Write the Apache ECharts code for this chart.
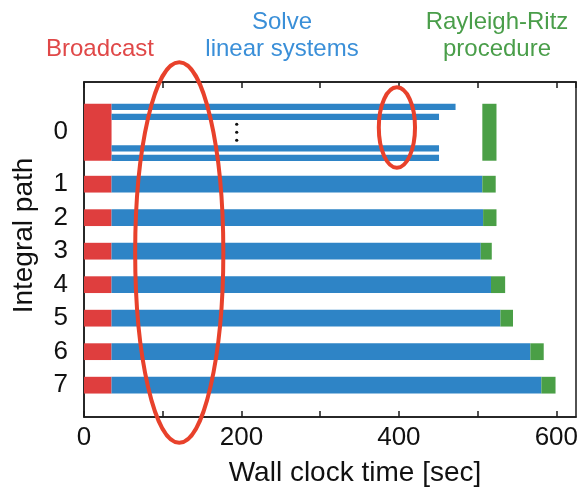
<!DOCTYPE html>
<html><head><meta charset="utf-8">
<script src="https://cdn.jsdelivr.net/npm/echarts@6/dist/echarts.min.js"></script>
<style>html,body{margin:0;padding:0;background:#fff}#c{width:585px;height:492px}</style>
</head><body><div id="c"></div>
<script>
// ---- data (seconds) ----
const paths = ['0','1','2','3','4','5','6','7'];
const broadcastEnd = [35,35,35,35,35,35,35,35];
const solveEnd = [451,506,507,504,517,529,567,581];
const path0SolveEnds = [472,451,451,451];
const rrStart = [506,506,507,504,517,529,567,581];
const rrEnd = [524,523,524,518,535,545,584,599];
const xTicks = [0,200,400,600];

// ---- layout (row positions in axis units) ----
const rowCenter = [-0.55,1,2,3,4,5,6,7];
const barH = 0.5, row0H = 1.7, lineH = 0.19;
const lineOffsets = [-0.756,-0.46,0.48,0.765];

const FONT = '"Liberation Sans", Arial, sans-serif';
const RED = '#df3e3e', BLUE = '#2e84c6', GREEN = '#4a9f46';
const AX = '#1a1a1a';

function makeRender(color){
  return function(params, api){
    const i = api.value(0), s = api.value(1), e = api.value(2), k = api.value(3);
    let yc = rowCenter[i], h = (i === 0) ? row0H : barH;
    if (k >= 0) { yc = rowCenter[0] + lineOffsets[k]; h = lineH; }
    const p1 = api.coord([s, yc]), p2 = api.coord([e, yc]);
    const hh = api.size([0, h])[1];
    return {type:'rect', shape:{x:p1[0], y:p1[1]-hh/2, width:p2[0]-p1[0], height:hh}, style:{fill:color}};
  };
}

const bData = paths.map((p,i)=>[i, 0, broadcastEnd[i], -1]);
const sData = [];
path0SolveEnds.forEach((e,k)=>sData.push([0, broadcastEnd[0], e, k]));
for (let i=1;i<paths.length;i++) sData.push([i, broadcastEnd[i], solveEnd[i], -1]);
const rData = paths.map((p,i)=>[i, rrStart[i], rrEnd[i], -1]);

const chart = echarts.init(document.getElementById('c'), null, {renderer:'canvas'});
const axisCommon = {
  type:'value', min:0, max:625, interval:100,
  axisLine:{show:true, onZero:false, lineStyle:{color:AX, width:1.5}},
  axisTick:{show:true, inside:true, length:6, lineStyle:{color:AX, width:1.5}},
  splitLine:{show:false}
};
chart.setOption({
  animation:false,
  backgroundColor:'#fff',
  grid:{left:84, right:9, top:82, bottom:70, show:true, borderColor:AX, borderWidth:1.5, backgroundColor:'transparent'},
  xAxis:[
    Object.assign({}, axisCommon, {
      position:'bottom',
      name:'Wall clock time [sec]', nameLocation:'middle', nameGap:42,
      nameTextStyle:{fontFamily:FONT, fontSize:28, color:'#111', padding:[0,0,0,50]},
      axisLabel:{show:true, margin:8, fontFamily:FONT, fontSize:26, color:'#111', showMaxLabel:false,
        formatter:v => xTicks.indexOf(v) >= 0 ? String(v) : ''}
    }),
    Object.assign({}, axisCommon, {position:'top', axisLabel:{show:false}})
  ],
  yAxis:[{
    type:'value', inverse:true, min:-2.05, max:7.95,
    axisLine:{show:true, onZero:false, lineStyle:{color:AX, width:1.5}},
    axisTick:{show:false}, splitLine:{show:false},
    axisLabel:{show:true, customValues:rowCenter, margin:16, fontFamily:FONT, fontSize:26, color:'#111',
      formatter:v => { const i = rowCenter.indexOf(v); return i >= 0 ? paths[i] : ''; }},
    name:'Integral path', nameLocation:'middle', nameGap:46, nameRotate:90,
    nameTextStyle:{fontFamily:FONT, fontSize:28, color:'#111', padding:[0,0,0,28]}
  }],
  series:[
    {type:'custom', name:'Broadcast', renderItem:makeRender(RED), data:bData, encode:{x:[1,2], y:0}, z:2},
    {type:'custom', name:'Solve linear systems', renderItem:makeRender(BLUE), data:sData, encode:{x:[1,2], y:0}, z:2},
    {type:'custom', name:'Rayleigh-Ritz procedure', renderItem:makeRender(GREEN), data:rData, encode:{x:[1,2], y:0}, z:2}
  ]
});

// ---- annotations ----
const bigEll = {cx:121, cy:3.04, rx:56, ry:5.68};
const smallEll = {cx:397.5, cy:-0.69, rx:23, ry:1.2};
const dotsAt = {x:194, y:rowCenter[0]};
function ell(e){
  const c = chart.convertToPixel({gridIndex:0}, [e.cx, e.cy]);
  const r = chart.convertToPixel({gridIndex:0}, [e.cx + e.rx, e.cy + e.ry]);
  return {type:'ellipse', z:50, shape:{cx:c[0], cy:c[1], rx:Math.abs(r[0]-c[0]), ry:Math.abs(r[1]-c[1])},
    style:{fill:null, stroke:'#e8412b', lineWidth:4}};
}
const dp = chart.convertToPixel({gridIndex:0}, [dotsAt.x, dotsAt.y]);
const dots = [-8,0,8].map(o => ({type:'circle', z:40, shape:{cx:dp[0], cy:dp[1]+o, r:1.6}, style:{fill:'#111'}}));
const titleStyle = (t, col) => ({font:'24px ' + FONT, fill:col, text:t, align:'center', verticalAlign:'middle', lineHeight:27});
chart.setOption({graphic:[
  ell(bigEll), ell(smallEll), ...dots,
  {type:'text', x:100, y:49, style:titleStyle('Broadcast', '#e04848')},
  {type:'text', x:282, y:36, style:titleStyle('Solve\nlinear systems', '#3a8fd8')},
  {type:'text', x:497, y:36, style:titleStyle('Rayleigh-Ritz\nprocedure', '#4a9e4a')}
]});
</script>
</body></html>
